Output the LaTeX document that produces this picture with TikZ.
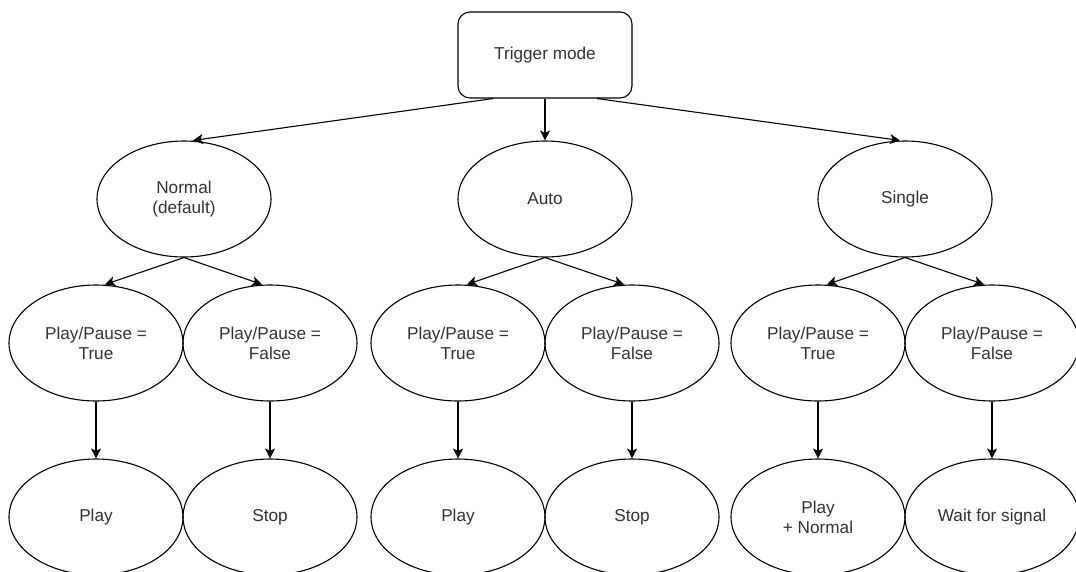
\documentclass[tikz,border=0pt]{standalone}
\usepackage{fontspec}
\setmainfont{Liberation Sans}
\usepackage{tikz}
\usetikzlibrary{positioning, arrows.meta, shapes.geometric}
\usepackage{xcolor}

\tikzset{
    modebox/.style={draw, line width=1.1pt, rounded corners=12pt, minimum width=174pt,
        minimum height=86pt, inner sep=0pt, text=black!80, align=center,
        font=\fontsize{17.2}{20}\selectfont},
    stateell/.style={draw, ellipse, line width=1.1pt, minimum width=174pt,
        minimum height=116pt, inner sep=0pt, text=black!80, align=center,
        font=\fontsize{17.2}{20}\selectfont},
    flow/.style={line width=1.1pt, -{Stealth[length=10pt, width=10pt, inset=2.5pt]}}
}

\begin{document}
\begin{tikzpicture}[x=1pt, y=-1pt]
    \useasboundingbox (0,0) rectangle (1076,571);

    % Root
    \node[modebox] (trig) at (545,55) {Trigger mode};

    % The three modes
    \node[stateell] (normal) at (184,199) {Normal\\(default)};
    \node[stateell] (auto)   at (545,199) {Auto};
    \node[stateell] (single) at (905,199) {Single};

    % Play/Pause state under each mode
    \node[stateell] (nt) at (96,343)  {Play/Pause =\\True};
    \node[stateell] (nf) at (270,343) {Play/Pause =\\False};
    \node[stateell] (at) at (458,343) {Play/Pause =\\True};
    \node[stateell] (af) at (632,343) {Play/Pause =\\False};
    \node[stateell] (st) at (818,343) {Play/Pause =\\True};
    \node[stateell] (sf) at (992,343) {Play/Pause =\\False};

    % Resulting action
    \node[stateell] (np) at (96,517)  {Play};
    \node[stateell] (ns) at (270,517) {Stop};
    \node[stateell] (ap) at (458,517) {Play};
    \node[stateell] (as) at (632,517) {Stop};
    \node[stateell] (sp) at (818,517) {Play\\+ Normal};
    \node[stateell] (sw) at (992,517) {Wait for signal};

    % Root to modes
    \draw[flow] ([xshift=-52pt]trig.south) -- ([xshift=9pt]normal.north);
    \draw[flow] (trig.south) -- (auto.north);
    \draw[flow] ([xshift=52pt]trig.south) -- ([xshift=-5pt]single.north);

    % Modes to states
    \draw[flow] (normal.south) -- ([xshift=9pt]nt.north);
    \draw[flow] (normal.south) -- ([xshift=-8pt]nf.north);
    \draw[flow] (auto.south) -- ([xshift=9pt]at.north);
    \draw[flow] (auto.south) -- ([xshift=-8pt]af.north);
    \draw[flow] (single.south) -- ([xshift=9pt]st.north);
    \draw[flow] (single.south) -- ([xshift=-8pt]sf.north);

    % States to actions
    \draw[flow] (nt.south) -- (np.north);
    \draw[flow] (nf.south) -- (ns.north);
    \draw[flow] (at.south) -- (ap.north);
    \draw[flow] (af.south) -- (as.north);
    \draw[flow] (st.south) -- (sp.north);
    \draw[flow] (sf.south) -- (sw.north);
\end{tikzpicture}
\end{document}
